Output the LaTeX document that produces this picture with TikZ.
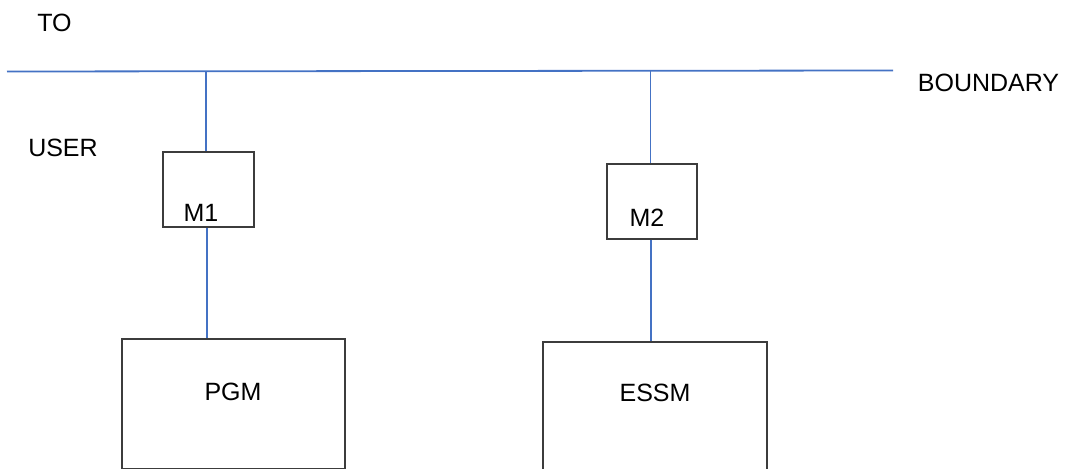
\documentclass[tikz,border=0pt]{standalone}
\usepackage{fontspec}
\setmainfont{Liberation Sans}
\begin{document}
\begin{tikzpicture}[x=1pt,y=-1pt,
  wire/.style={draw={rgb,255:red,68;green,114;blue,196},line width=1.8pt},
  box/.style={draw={rgb,255:red,60;green,60;blue,60},line width=1.2pt,fill=white,inner sep=0pt},
  lbl/.style={font=\fontsize{25}{30}\selectfont,inner sep=0pt,text=black}]
\useasboundingbox (0,0) rectangle (1067,468);
\clip (0,0) rectangle (1067,468);
% boundary
\coordinate (bl) at (7,71.5);
\coordinate (br) at (893,70.5);
\draw[wire] (bl) -- (br);
\coordinate (j1) at (206,71.4);
\coordinate (j2) at (650.5,70.8);
% boxes
\node[box,minimum width=91pt,minimum height=75pt] (m1) at (208.5,189.5) {};
\node[box,minimum width=90pt,minimum height=75pt] (m2) at (652,201.5) {};
\node[box,minimum width=223pt,minimum height=130pt] (pgm) at (233.5,404) {};
\node[box,minimum width=224pt,minimum height=130pt] (essm) at (655,407) {};
% connectors
\draw[wire] (j1) -- (j1 |- m1.north);
\draw[wire] (j2) -- (j2 |- m2.north);
\draw[wire] ([xshift=-1.5pt]m1.south) -- ([xshift=-1.5pt]m1.south |- pgm.north);
\draw[wire] ([xshift=-1pt]m2.south) -- ([xshift=-1pt]m2.south |- essm.north);
% texts
\node[lbl] (tm1) at (201,213) {M1};
\node[lbl] (tm2) at (647,218) {M2};
\node[lbl] (tpgm) at (233,392) {PGM};
\node[lbl] (tessm) at (655,393) {ESSM};
\node[lbl] (tto) at (54.5,22.5) {TO};
\node[lbl] (tuser) at (63,147.5) {USER};
\node[lbl] (tbnd) at (988.5,82.5) {BOUNDARY};
\end{tikzpicture}
\end{document}
